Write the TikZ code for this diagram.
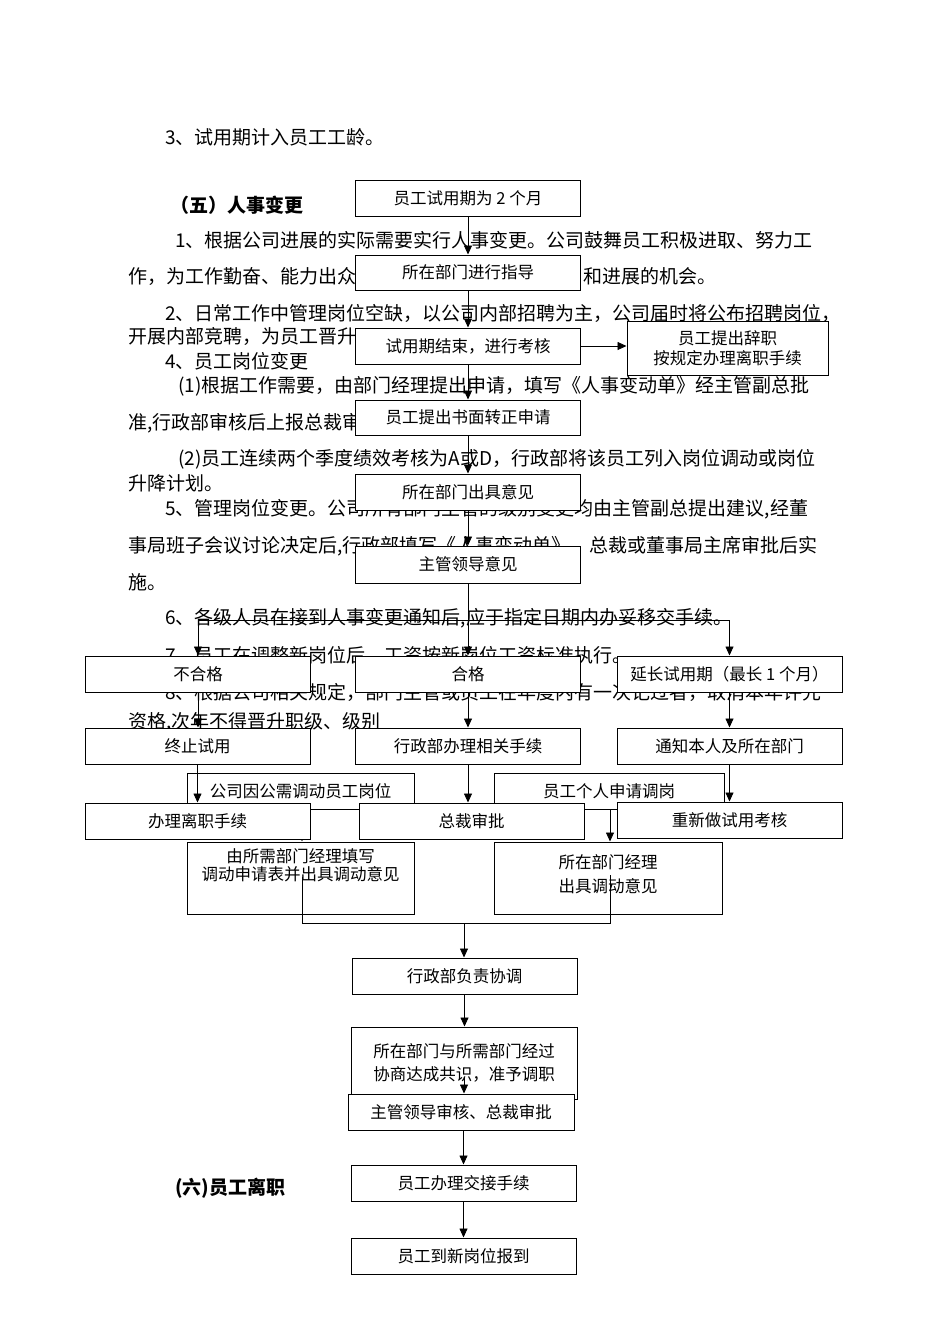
\documentclass[tikz,border=0pt]{standalone}
\usepackage{fontspec}
\setmainfont{Noto Sans CJK SC}
\usetikzlibrary{arrows.meta, positioning}
\XeTeXlinebreaklocale "zh"
\XeTeXlinebreakskip = 0pt plus 1pt

\newcommand{\bodyfont}{\fontsize{19}{19}\selectfont}
\newcommand{\boxfont}{\fontsize{16.5}{19}\selectfont}
\newcommand{\jline}[2]{\makebox[#1pt][s]{#2}}

\tikzset{
  para/.style={anchor=west, inner sep=0pt, font=\bodyfont},
  head/.style={anchor=west, inner sep=0pt, font=\bodyfont\bfseries},
  flowbox/.style={draw, fill=white, line width=1pt, minimum width=225pt, minimum height=36pt, inner sep=2pt, font=\boxfont, align=center},
  boxtxt/.style={inner sep=0pt, font=\fontsize{16.5}{18}\selectfont, align=center},
  conn/.style={line width=0.8pt},
  arr/.style={line width=0.8pt, -{Triangle[length=9pt, width=8pt]}},
}

\begin{document}
\begin{tikzpicture}[x=1pt, y=-1pt]
  \fill[white] (0,0) rectangle (950,1344);
  \useasboundingbox (0,0) rectangle (950,1344);

  % page text
  \node[para] (p3) at (165,137) {3、试用期计入员工工龄。};
  \node[head] (sec5) at (170,205) {（五）人事变更};
  \node[para] (p51a) at (175,240) {\jline{655}{1、根据公司进展的实际需要实行人事变更。公司鼓舞员工积极进取、努力工}};
  \node[para] (p51b) at (128,276) {作，为工作勤奋、能力出众};
  \node[para] (p51c) at (583,276) {和进展的机会。};
  \node[para] (p52a) at (165,313) {\jline{665}{2、日常工作中管理岗位空缺，以公司内部招聘为主，公司届时将公布招聘岗位，}};
  \node[para] (p52b) at (128,336) {开展内部竞聘，为员工晋升};
  \node[para] (p54) at (165,361) {4、员工岗位变更};
  \node[para] (p541a) at (178,386) {\jline{652}{(1)根据工作需要，由部门经理提出申请，填写《人事变动单》经主管副总批}};
  \node[para] (p541b) at (128,423) {准,行政部审核后上报总裁审批。};
  \node[para] (p542a) at (178,459) {\jline{652}{(2)员工连续两个季度绩效考核为A或D，行政部将该员工列入岗位调动或岗位}};
  \node[para] (p542b) at (128,483) {升降计划。};
  \node[para] (p55a) at (165,509) {\jline{665}{5、管理岗位变更。公司所有部门主管的级别变更均由主管副总提出建议,经董}};
  \node[para] (p55b) at (128,546) {\jline{702}{事局班子会议讨论决定后,行政部填写《人事变动单》，总裁或董事局主席审批后实}};
  \node[para] (p55c) at (128,582) {施。};
  \node[para] (p56) at (165,618) {6、各级人员在接到人事变更通知后,应于指定日期内办妥移交手续。};
  \node[para] (p57) at (165,655) {7、员工在调整新岗位后，工资按新岗位工资标准执行。};
  \node[para] (p58a) at (165,692) {\jline{665}{8、根据公司相关规定，部门主管或员工在年度内有一次记过者，取消本年评先}};
  \node[para] (p58b) at (128,722) {资格,次年不得晋升职级、级别};
  \node[head] (sec6) at (175,1188) {(六)员工离职};

  % transfer branch, lies under the probation boxes
  \node[flowbox, minimum width=227pt] (needpos) at (300.5,791) {公司因公需调动员工岗位};
  \node[flowbox, minimum width=230pt] (selfapp) at (609,791) {员工个人申请调岗};
  \node[flowbox, minimum width=227pt, minimum height=72pt] (needform) at (300.5,878) {};
  \node[boxtxt, below=7pt of needform.north] (needformtxt) {由所需部门经理填写\\调动申请表并出具调动意见};
  \node[flowbox, minimum width=228pt, minimum height=72pt] (deptform) at (608,878) {};
  \node[boxtxt, below=13pt of deptform.north] (deptformtxt) {所在部门经理\\[6pt]出具调动意见};

  \coordinate (needout) at (302,877);
  \coordinate (deptout) at (610,875);
  \coordinate (joinl) at (302,923);
  \coordinate (joinr) at (610,923);
  \coordinate (joinm) at (464,923);
  \draw[arr] (needpos.south -| needout) -- (needout |- needform.north);
  \draw[arr] (selfapp.south -| deptout) -- (deptout |- deptform.north);
  \draw[conn] (needout) -- (joinl) -- (joinr) -- (deptout);

  % probation
  \node[flowbox] (trialtwo) at (468,198) {员工试用期为 2 个月};
  \node[flowbox, minimum height=35pt] (guide) at (468,272.5) {所在部门进行指导};
  \node[flowbox] (assess) at (468,346) {试用期结束，进行考核};
  \node[flowbox, minimum width=201pt, minimum height=54pt, font=\fontsize{16.5}{20}\selectfont] (resign) at (727.5,348) {员工提出辞职\\按规定办理离职手续};
  \node[flowbox, minimum height=35pt] (apply) at (468,417.5) {员工提出书面转正申请};
  \node[flowbox] (deptview) at (468,492) {所在部门出具意见};
  \node[flowbox, minimum height=37pt] (leadview) at (468,564.5) {主管领导意见};

  \draw[arr] (trialtwo.south) -- (trialtwo.south |- guide.north);
  \draw[arr] (guide.south) -- (guide.south |- assess.north);
  \draw[arr] (assess.east) -- (assess.east -| resign.west);
  \draw[arr] (assess.south) -- (assess.south |- apply.north);
  \draw[arr] (apply.south) -- (apply.south |- deptview.north);
  \draw[arr] (deptview.south) -- (deptview.south |- leadview.north);

  \node[flowbox] (fail) at (198,674) {不合格};
  \node[flowbox] (pass) at (468,674) {合格};
  \node[flowbox] (extend) at (729.5,674) {延长试用期（最长 1 个月）};
  \node[flowbox] (stop) at (197.5,746) {终止试用};
  \node[flowbox] (adminproc) at (468,746) {行政部办理相关手续};
  \node[flowbox] (notify) at (729.5,746) {通知本人及所在部门};

  \coordinate (split) at (468,620);
  \draw[conn] (leadview.south) -- (split);
  \draw[conn] (fail.north |- split) -- (extend.north |- split);
  \draw[arr] (fail.north |- split) -- (fail.north);
  \draw[arr] (split) -- (pass.north);
  \draw[arr] (extend.north |- split) -- (extend.north);
  \draw[arr] (fail.south) -- (fail.south |- stop.north);
  \draw[arr] (pass.south) -- (pass.south |- adminproc.north);
  \draw[arr] (extend.south) -- (extend.south |- notify.north);

  \node[flowbox] (leave) at (197.5,821) {办理离职手续};
  \node[flowbox] (ceook) at (471.5,821) {总裁审批};
  \node[flowbox] (retest) at (729.5,820) {重新做试用考核};
  \draw[arr] (stop.south) -- (stop.south |- leave.north);
  \draw[arr] (adminproc.south) -- (adminproc.south |- ceook.north);
  \draw[arr] (notify.south) -- (notify.south |- retest.north);

  % transfer, lower part
  \node[flowbox] (coord) at (464.5,976) {行政部负责协调};
  \node[flowbox, minimum width=226pt, minimum height=72pt] (agree) at (464,1063) {所在部门与所需部门经过\\[4pt]协商达成共识，准予调职};
  \node[flowbox, minimum width=226pt] (approve) at (461,1112) {主管领导审核、总裁审批};
  \node[flowbox] (handover) at (463.5,1183) {员工办理交接手续};
  \node[flowbox] (report) at (463.5,1256) {员工到新岗位报到};

  \coordinate (agreeout) at (464,1077);
  \draw[arr] (joinm) -- (joinm |- coord.north);
  \draw[arr] (coord.south) -- (coord.south |- agree.north);
  \draw[arr] (agreeout) -- (agreeout |- approve.north);
  \draw[arr] (handover.north |- approve.south) -- (handover.north);
  \draw[arr] (handover.south) -- (report.north);
\end{tikzpicture}
\end{document}
